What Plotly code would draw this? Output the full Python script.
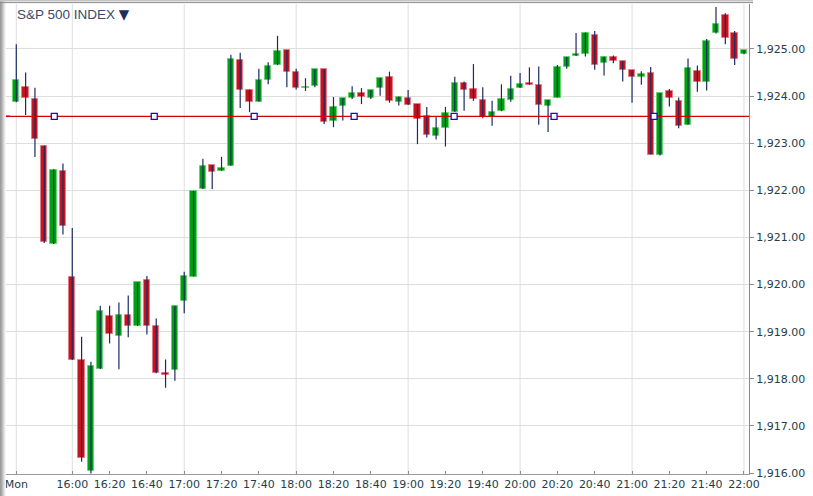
import plotly.graph_objects as go
import pandas as pd

# ---- data -----------------------------------------------------------------
session_start = "2014-06-02 15:25"
opens = [1923.55,
         1923.87, 1924.19, 1923.93, 1922.94, 1920.86, 1922.42, 1920.15, 1918.40, 1916.04, 1918.21,
         1919.33, 1918.91, 1919.35, 1919.12, 1920.09, 1919.11, 1918.12, 1918.18, 1919.65, 1920.17,
         1922.03, 1922.53, 1922.41, 1922.52, 1924.77, 1924.14, 1923.88, 1924.34, 1924.66, 1924.98,
         1924.51, 1924.17, 1924.21, 1924.57, 1923.48, 1923.78, 1923.96, 1924.06, 1923.97, 1924.17,
         1924.41, 1923.88, 1923.95, 1923.83, 1923.58, 1923.16, 1923.33, 1923.66, 1924.28, 1924.16,
         1923.92, 1923.55, 1923.68, 1923.92, 1924.17, 1924.28, 1924.24, 1923.78, 1923.97, 1924.62,
         1924.85, 1924.89, 1925.30, 1924.70, 1924.84, 1924.74, 1924.55, 1924.41, 1924.48, 1922.76,
         1924.11, 1923.90, 1923.39, 1924.54, 1924.29, 1925.33, 1925.72, 1925.33, 1924.89]
highs = [1923.57,
         1925.10, 1924.50, 1924.18, 1922.95, 1922.45, 1922.57, 1921.20, 1918.89, 1918.36, 1919.55,
         1919.55, 1919.62, 1919.77, 1920.05, 1920.18, 1919.28, 1918.41, 1919.55, 1920.27, 1921.99,
         1922.67, 1922.53, 1922.71, 1924.88, 1924.92, 1924.14, 1924.58, 1924.72, 1925.28, 1924.98,
         1924.58, 1924.38, 1924.57, 1924.57, 1923.98, 1923.96, 1924.21, 1924.17, 1924.13, 1924.39,
         1924.52, 1923.99, 1924.13, 1923.83, 1923.77, 1923.56, 1923.77, 1924.41, 1924.31, 1924.68,
         1924.19, 1923.90, 1924.25, 1924.43, 1924.49, 1924.61, 1924.63, 1923.92, 1924.66, 1924.83,
         1925.34, 1925.35, 1925.38, 1924.84, 1924.86, 1924.74, 1924.55, 1924.53, 1924.62, 1924.06,
         1924.15, 1923.97, 1924.80, 1924.65, 1925.21, 1925.89, 1925.76, 1925.38, 1924.97]
lows = [1923.55,
        1923.87, 1923.60, 1922.71, 1920.88, 1920.86, 1921.06, 1918.40, 1916.24, 1915.99, 1918.21,
        1918.75, 1918.20, 1918.88, 1919.12, 1918.94, 1918.12, 1917.81, 1917.96, 1919.39, 1920.17,
        1922.03, 1922.03, 1922.41, 1922.52, 1923.75, 1923.66, 1923.88, 1924.25, 1924.66, 1924.19,
        1924.14, 1924.11, 1924.19, 1923.41, 1923.34, 1923.48, 1923.94, 1923.83, 1923.94, 1924.01,
        1923.86, 1923.80, 1923.81, 1922.98, 1923.12, 1923.08, 1922.93, 1923.66, 1923.69, 1923.90,
        1923.53, 1923.37, 1923.68, 1923.88, 1924.17, 1924.24, 1923.39, 1923.24, 1923.97, 1924.58,
        1924.85, 1924.84, 1924.56, 1924.44, 1924.70, 1924.31, 1923.86, 1924.24, 1922.76, 1922.74,
        1923.78, 1923.32, 1923.39, 1924.09, 1924.12, 1925.33, 1925.10, 1924.66, 1924.89]
closes = [1923.57,
          1924.34, 1923.95, 1923.08, 1920.90, 1922.43, 1921.24, 1918.40, 1916.32, 1918.28, 1919.43,
          1918.96, 1919.35, 1919.12, 1920.05, 1919.12, 1918.12, 1918.07, 1919.55, 1920.19, 1921.99,
          1922.52, 1922.38, 1922.48, 1924.79, 1924.12, 1923.87, 1924.34, 1924.63, 1924.96, 1924.51,
          1924.17, 1924.19, 1924.57, 1923.45, 1923.76, 1923.96, 1924.06, 1923.99, 1924.13, 1924.39,
          1923.89, 1923.99, 1923.81, 1923.52, 1923.17, 1923.32, 1923.64, 1924.28, 1924.14, 1923.93,
          1923.56, 1923.66, 1923.93, 1924.15, 1924.25, 1924.24, 1923.81, 1923.92, 1924.61, 1924.83,
          1924.89, 1925.35, 1924.66, 1924.84, 1924.74, 1924.55, 1924.41, 1924.47, 1922.76, 1924.06,
          1923.95, 1923.37, 1924.60, 1924.30, 1925.18, 1925.52, 1925.23, 1924.79, 1924.97]

prev_close = 1923.57
marker_times = ["2014-06-02 15:50:22", "2014-06-02 16:43:56", "2014-06-02 17:37:30",
                "2014-06-02 18:31:04", "2014-06-02 19:24:39", "2014-06-02 20:18:13",
                "2014-06-02 21:11:47"]
grid_times = ["2014-06-02 15:30", "2014-06-02 16:00", "2014-06-02 17:00", "2014-06-02 18:00",
              "2014-06-02 19:00", "2014-06-02 20:00", "2014-06-02 21:00", "2014-06-02 22:00"]
tick_times = ["2014-06-02 15:30"] + [
    f"2014-06-02 {h:02d}:{m:02d}" for h in range(16, 23) for m in (0, 20, 40) if not (h == 22 and m > 0)]
tick_text = ["Mon"] + [t[-5:] for t in tick_times[1:]]
x_range = ["2014-06-02 15:23:57", "2014-06-02 22:02:41"]
y_range = [1915.979, 1925.955]
title_text = "S&P 500 INDEX"

# ---- build ----------------------------------------------------------------
times = pd.date_range(session_start, periods=len(opens), freq="5min")

GREEN, GREEN_EDGE = "#01a014", "#66d36c"
RED, RED_EDGE = "#c4141f", "#e87a86"
WICK = "#1c2b5e"

up = [c >= o for o, c in zip(opens, closes)]
body_base = [min(o, c) for o, c in zip(opens, closes)]
body_h = [max(abs(c - o), 0.015) for o, c in zip(opens, closes)]

wx, wy = [], []
for t, h, l in zip(times, highs, lows):
    wx += [t, t, None]
    wy += [l, h, None]

fig = go.Figure()
fig.add_trace(go.Scatter(x=wx, y=wy, mode="lines", line=dict(color=WICK, width=1.2),
                         hoverinfo="skip", showlegend=False))
fig.add_trace(go.Bar(x=times, y=body_h, base=body_base, width=205000,
                     marker=dict(color=[GREEN if u else RED for u in up],
                                 line=dict(color=[GREEN_EDGE if u else RED_EDGE for u in up], width=1)),
                     showlegend=False))
# previous close line (above candles) and its markers
fig.add_trace(go.Scatter(x=x_range, y=[prev_close, prev_close], mode="lines",
                         line=dict(color="#d40000", width=1.3), hoverinfo="skip", showlegend=False,
                         cliponaxis=True))
fig.add_trace(go.Scatter(x=marker_times, y=[prev_close] * len(marker_times), mode="markers",
                         marker=dict(symbol="square", size=6, color="white",
                                     line=dict(width=1.3, color="#1010c8")),
                         showlegend=False, hoverinfo="skip"))

W, H = 813, 496
ML, MR, MT, MB = 5, 64, 4, 22
PW, PH = W - ML - MR, H - MT - MB


def px_x(p):
    return (p - ML) / PW


def px_y(p):
    return 1 - (p - MT) / PH


shapes = []
for g in grid_times:
    shapes.append(dict(type="line", xref="x", yref="paper", x0=g, x1=g, y0=0, y1=1,
                       line=dict(color="#dedede", width=1), layer="below"))
# outer frame (left gradient + top border)
for i, col in enumerate(["#9c9c9c", "#a8a8a8", "#bdbdbd", "#d2d2d2", "#e6e6e6", "#f4f4f4"]):
    shapes.append(dict(type="line", xref="paper", yref="paper", x0=px_x(i + 0.5), x1=px_x(i + 0.5),
                       y0=px_y(H), y1=px_y(0), line=dict(color=col, width=1), layer="above"))
shapes.append(dict(type="line", xref="paper", yref="paper", x0=px_x(0), x1=px_x(753),
                   y0=px_y(0.8), y1=px_y(0.8), line=dict(color="#c4c4c4", width=1.6), layer="above"))
shapes.append(dict(type="line", xref="paper", yref="paper", x0=px_x(0), x1=px_x(753),
                   y0=px_y(2.6), y1=px_y(2.6), line=dict(color="#8e8e8e", width=1), layer="above"))

tickfont = dict(family="DejaVu Sans, Verdana, sans-serif", size=11, color="#253c48")

fig.update_layout(
    width=W, height=H,
    margin=dict(l=ML, r=MR, t=MT, b=MB, pad=0),
    paper_bgcolor="white", plot_bgcolor="white",
    bargap=0, showlegend=False, shapes=shapes,
    xaxis=dict(type="date", range=x_range, tickvals=tick_times, ticktext=tick_text,
               showgrid=False, zeroline=False, ticks="inside", ticklen=3, tickcolor="#8c8c8c",
               showline=True, linecolor="#9a9a9a", linewidth=1.2, tickfont=tickfont,
               fixedrange=True),
    yaxis=dict(side="right", range=y_range, tick0=1916, dtick=1, tickformat=",.2f",
               showgrid=True, gridcolor="#dedede", gridwidth=1, zeroline=False,
               ticks="outside", ticklen=4, tickcolor="#8c8c8c",
               showline=True, linecolor="#8a8a8a", linewidth=1.2, tickfont=tickfont,
               fixedrange=True),
    annotations=[dict(xref="paper", yref="paper", x=px_x(15), y=px_y(14.5),
                      xanchor="left", yanchor="middle", showarrow=False,
                      text=title_text + " <span style='color:#1e2d5c;font-family:DejaVu Sans'>▼</span>",
                      font=dict(family="Liberation Sans, Arial, sans-serif", size=13.5,
                                color="#3a4a6c"))],
)

fig.write_html("out.html")
